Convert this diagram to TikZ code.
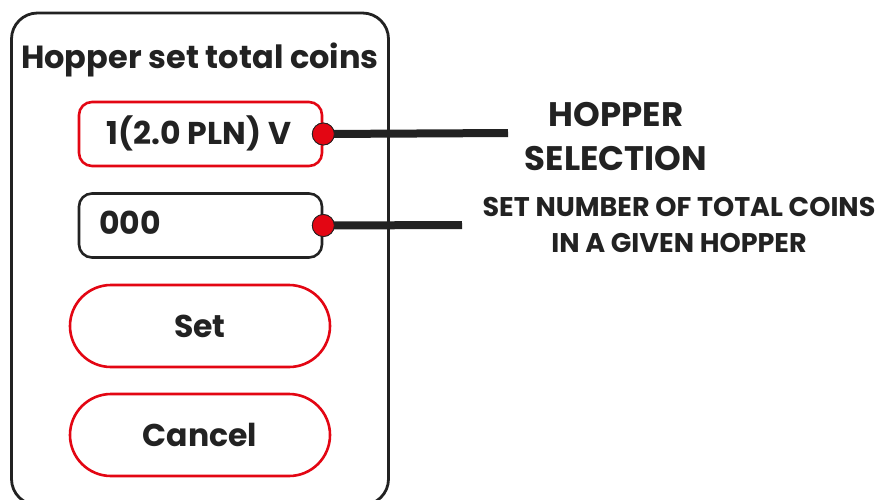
\documentclass[tikz,border=0pt]{standalone}
\usepackage{fontspec}
\setmainfont{Poppins}
\definecolor{hred}{HTML}{E30613}
\definecolor{hdark}{HTML}{222222}
\tikzset{
  txt/.style={text=hdark, font=\bfseries\fontsize{31.5}{36}\selectfont, inner sep=0pt},
  field/.style={draw, line width=2.6pt, rounded corners=13pt, minimum width=243pt, minimum height=64pt, inner sep=0pt},
  pill/.style={draw=hred, line width=2.6pt, rounded corners=41pt, minimum width=260pt, minimum height=82pt, inner sep=0pt},
  dotpin/.style={circle, fill=hred, draw=hdark, line width=0.8pt, minimum size=22pt, inner sep=0pt},
  leader/.style={hdark, line width=8pt},
  lbl/.style={text=hdark, font=\bfseries, align=center, inner sep=0pt}
}
\begin{document}
\begin{tikzpicture}[x=1pt,y=-1pt]
\clip (0,0) rectangle (891,499);
\fill[white] (0,0) rectangle (891,499);
\node[draw=hdark, line width=2.8pt, rounded corners=26pt, minimum width=377pt, minimum height=492pt, inner sep=0pt] (frame) at (200,259) {};
\node[txt, font=\bfseries\fontsize{32}{36}\selectfont, anchor=base] (title) at (200,68) {Hopper set total coins};
\node[field, draw=hred] (sel) at (200.5,134) {};
\node[txt, anchor=base] (seltxt) at (199,144) {1(2.0 PLN) V};
\node[field, draw=hdark] (num) at (200.5,225.5) {};
\node[txt, anchor=base west] (numtxt) at (99,234) {000};
\node[pill] (setb) at (200,326) {};
\node[txt, anchor=base] (settxt) at (200,337) {Set};
\node[pill] (canb) at (200,435) {};
\node[txt, anchor=base] (cantxt) at (200,446) {Cancel};
\coordinate (e1) at (508,133);
\coordinate (e2) at (462,225);
\node[dotpin] (d1) at (sel.east) {};
\node[dotpin] (d2) at (num.east) {};
\draw[leader] (d1.center) -- (e1);
\draw[leader] (d2.center) -- (e2);
\node[dotpin] at (sel.east) {};
\node[dotpin] at (num.east) {};
\node[lbl, font=\bfseries\fontsize{34}{44}\selectfont, anchor=base] (hs) at (616,170) {HOPPER\\SELECTION};
\node[lbl, font=\bfseries\fontsize{27}{36}\selectfont, anchor=base] (sn) at (679,252) {SET NUMBER OF TOTAL COINS\\IN A GIVEN HOPPER};
\end{tikzpicture}
\end{document}
